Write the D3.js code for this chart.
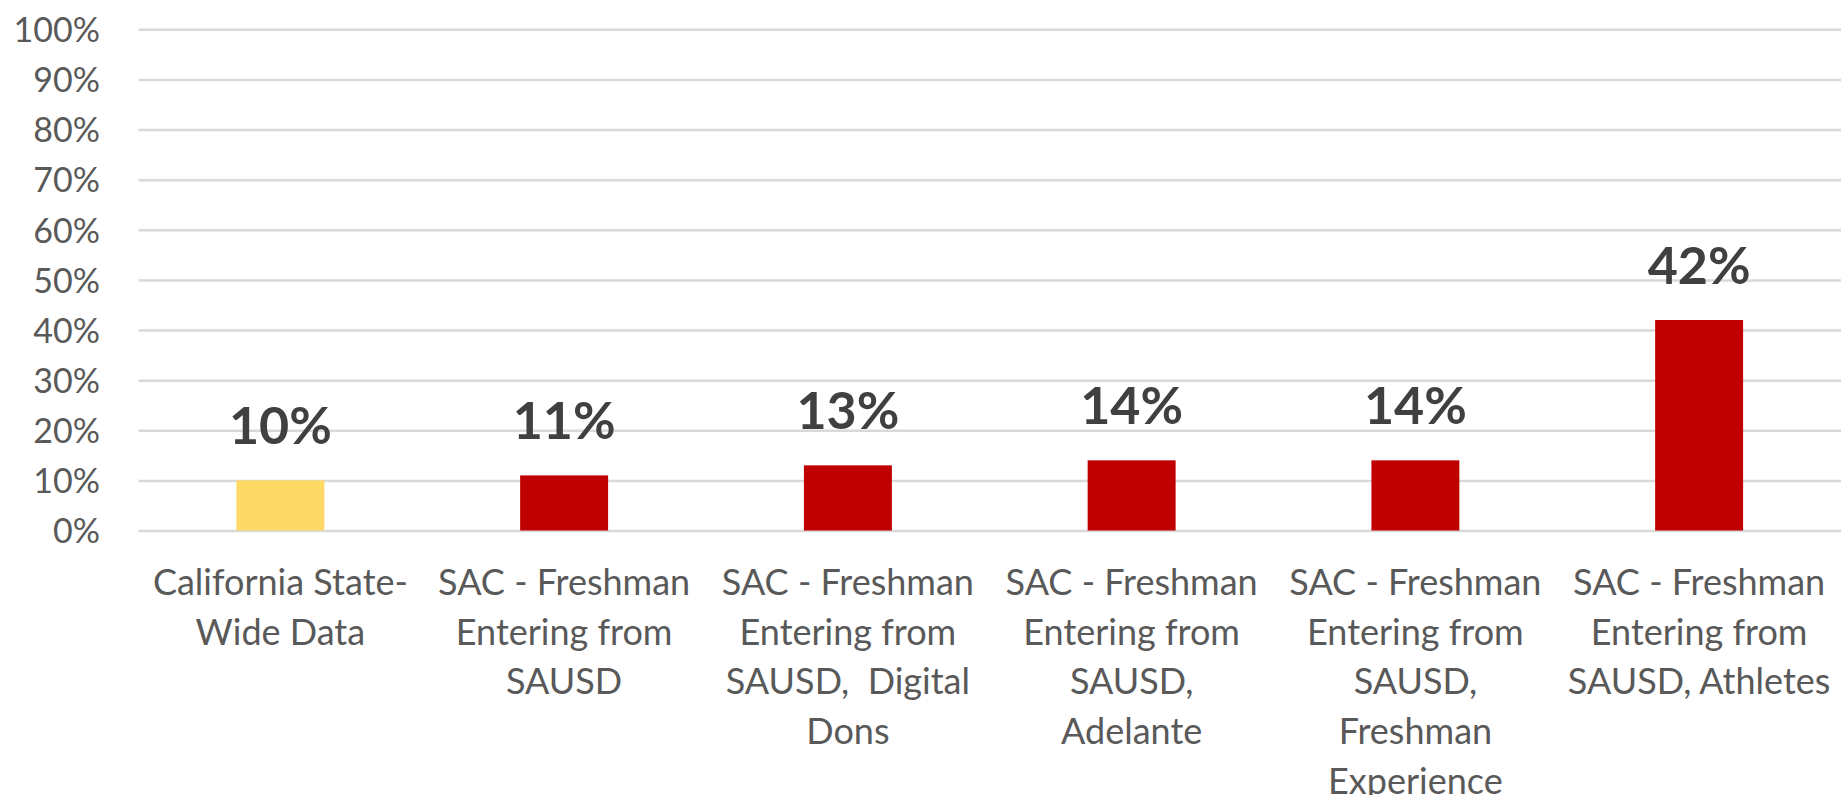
<!DOCTYPE html>
<html>
<head>
<meta charset="utf-8">
<script src="https://cdn.jsdelivr.net/npm/d3@7"></script>
<style>
  body { margin: 0; background: #fff; }
  text { font-family: Lato, "Open Sans", sans-serif; white-space: pre; }
</style>
</head>
<body>
<div id="chart"></div>
<script>
// categories, one entry per bar, line breaks as in the original labels
const categories = [
  ["California State-", "Wide Data"],
  ["SAC - Freshman", "Entering from", "SAUSD"],
  ["SAC - Freshman", "Entering from", "SAUSD,  Digital", "Dons"],
  ["SAC - Freshman", "Entering from", "SAUSD,", "Adelante"],
  ["SAC - Freshman", "Entering from", "SAUSD,", "Freshman", "Experience"],
  ["SAC - Freshman", "Entering from", "SAUSD, Athletes"]
];
const values = [0.10, 0.11, 0.13, 0.14, 0.14, 0.42];
const barColors = ["#FFD966", "#C00000", "#C00000", "#C00000", "#C00000", "#C00000"];
const yTicks = [0, 0.1, 0.2, 0.3, 0.4, 0.5, 0.6, 0.7, 0.8, 0.9, 1.0];

const W = 1841, H = 795;
const mLeft = 138.5, mRight = 1841, mTop = 29.3, mBottom = 530.5;

const svg = d3.select('#chart')
  .append('svg')
  .attr('width', W)
  .attr('height', H);

const x = d3.scaleBand()
  .domain(d3.range(categories.length))
  .range([mLeft, mRight])
  .paddingInner(0.69)
  .paddingOuter(0.345);

const y = d3.scaleLinear()
  .domain([0, 1])
  .range([mBottom, mTop]);

// y axis + gridlines
const yAxis = svg.append('g')
  .attr('transform', `translate(${mLeft},0)`)
  .call(d3.axisLeft(y)
    .tickValues(yTicks)
    .tickFormat(d3.format('.0%'))
    .tickSize(-(mRight - mLeft))
    .tickPadding(38.5));

yAxis.select('.domain').remove();
yAxis.selectAll('.tick line')
  .attr('stroke', '#d9d9d9')
  .attr('stroke-width', 2.5);
yAxis.selectAll('.tick text')
  .attr('fill', '#595959')
  .style('font-size', '34px')
  .attr('dy', '0.36em');

// bars
svg.selectAll('.bar')
  .data(values)
  .enter().append('rect')
  .attr('class', 'bar')
  .attr('x', (d, i) => x(i))
  .attr('y', d => y(d))
  .attr('width', x.bandwidth())
  .attr('height', d => y(0) - y(d))
  .style('fill', (d, i) => barColors[i]);

// value labels
svg.selectAll('.val')
  .data(values)
  .enter().append('text')
  .attr('class', 'val')
  .attr('x', (d, i) => x(i) + x.bandwidth() / 2)
  .attr('y', d => y(d) - 36)
  .attr('text-anchor', 'middle')
  .attr('fill', '#404040')
  .style('font-size', '52px')
  .style('font-weight', 'bold')
  .text(d => Math.round(d * 100) + '%');

// category labels
const xAxis = svg.append('g')
  .attr('transform', `translate(0,${mBottom})`)
  .call(d3.axisBottom(x).tickSize(0).tickFormat(''));

xAxis.select('.domain').remove();
xAxis.selectAll('.tick text').remove();

xAxis.selectAll('.tick')
  .append('text')
  .attr('text-anchor', 'middle')
  .attr('fill', '#595959')
  .style('font-size', '36px')
  .selectAll('tspan')
  .data(i => categories[i])
  .enter().append('tspan')
  .attr('x', 0)
  .attr('y', (d, j) => 64.5 + j * 49.7)
  .text(d => d);
</script>
</body>
</html>
